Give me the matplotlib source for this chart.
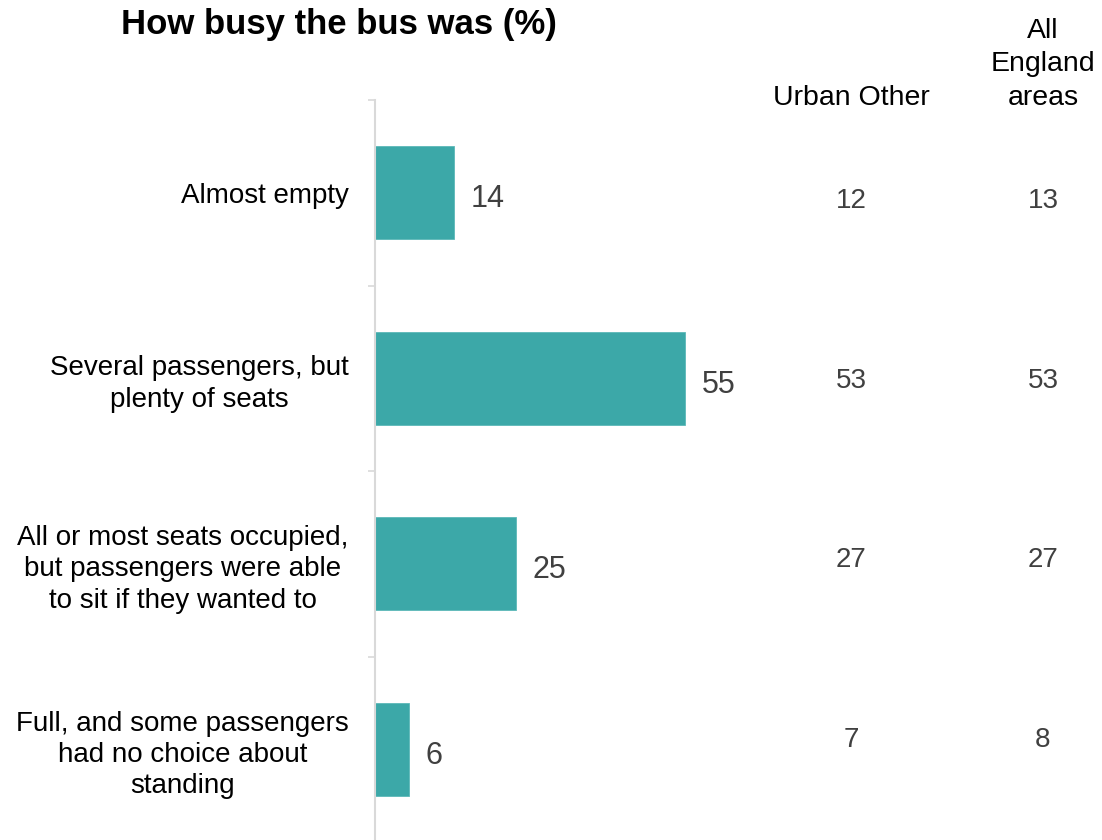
import numpy as np
import matplotlib.pyplot as plt
from matplotlib.transforms import blended_transform_factory

plt.rcParams['font.family'] = ['Liberation Sans', 'DejaVu Sans']

categories = ['Almost empty',
              'Several passengers, but\nplenty of seats',
              'All or most seats occupied,\nbut passengers were able\nto sit if they wanted to',
              'Full, and some passengers\nhad no choice about\nstanding']
area_values = [14, 55, 25, 6]
urban_other = [12, 53, 27, 7]
all_england = [13, 53, 27, 8]
column_headers = ['Urban Other', 'All\nEngland\nareas']

bar_color = '#3ca8a8'
grey_text = '#404040'
axis_grey = '#d9d9d9'

fig = plt.figure(figsize=(11.02, 8.4), dpi=100)
# axes: left edge at the vertical axis line, top at first boundary tick
ax = fig.add_axes([375 / 1102, -2 / 840, 727 / 1102, 742 / 840])

y = np.arange(len(categories))
bars = ax.barh(y, area_values, height=0.5, color=bar_color, edgecolor='#5cb8b8', linewidth=0.6)
lbls = ax.bar_label(bars, labels=[str(v) for v in area_values], padding=12,
                    fontsize=22, color=grey_text)
for t in lbls:
    t.set_va('center_baseline')
    t.xyann = (t.xyann[0], -2)

ax.set_ylim(len(categories) - 0.5, -0.5)
ax.set_xlim(0, 727 / 5.636)

ax.set_yticks(y)
ax.set_yticklabels(categories, fontsize=20, color='black', ha='right',
                   multialignment='center', linespacing=1.27)
ax.set_yticks(np.arange(-0.5, len(categories)), minor=True)
ax.tick_params(axis='y', which='major', length=0, pad=19)
ax.tick_params(axis='y', which='minor', length=5, width=1.2, color=axis_grey)
ax.set_xticks([])

for side in ['top', 'right', 'bottom']:
    ax.spines[side].set_visible(False)
ax.spines['left'].set_color(axis_grey)
ax.spines['left'].set_linewidth(1.5)

# comparison columns
col_x = [851 / 1102, 1043 / 1102]
for cx, header in zip(col_x, column_headers):
    fig.text(cx, 1 - 111 / 840, header, ha='center', va='bottom', fontsize=20.5,
             color='black', linespacing=1.38)

trans = blended_transform_factory(fig.transFigure, ax.transData)
for i in range(len(categories)):
    ty = 0.044 + i * 0.969
    for cx, vals in zip(col_x, [urban_other, all_england]):
        ax.text(cx, ty, str(vals[i]), transform=trans,
                ha='center', va='center', fontsize=20, color=grey_text)

fig.text(121 / 1102, 1 - 34 / 840, 'How busy the bus was (%)', fontsize=25,
         fontweight='bold', ha='left', va='baseline', color='black')

fig.savefig('out.png', dpi=100)
